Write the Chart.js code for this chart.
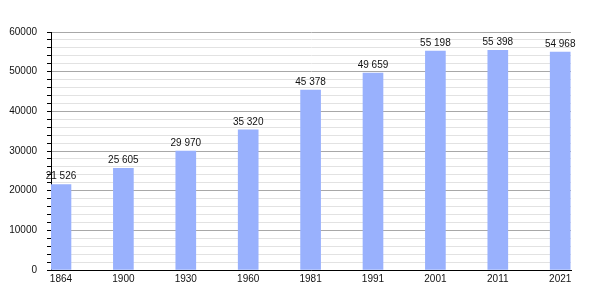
<!DOCTYPE html>
<html>
<head>
<meta charset="utf-8">
<script src="https://cdn.jsdelivr.net/npm/chart.js@4/dist/chart.umd.min.js"></script>
<style>
  html, body { margin: 0; padding: 0; background: #fff; }
  #wrap { width: 600px; height: 300px; position: relative; }
</style>
</head>
<body>
<div id="wrap"><canvas id="popChart"></canvas></div>
<script>
// census years and population
const years = ['1864', '1900', '1930', '1960', '1981', '1991', '2001', '2011', '2021'];
const population = [21526, 25605, 29970, 35320, 45378, 49659, 55198, 55398, 54968];
const yMajorTicks = [0, 10000, 20000, 30000, 40000, 50000, 60000];

const fmt = v => String(v).replace(/\B(?=(\d{3})+(?!\d))/g, ' ');

// draws the value above each bar
const valueLabels = {
    id: 'valueLabels',
    afterDatasetsDraw(chart) {
        const ctx = chart.ctx;
        const meta = chart.getDatasetMeta(0);
        ctx.save();
        ctx.font = '10px "Liberation Sans", Arial, sans-serif';
        ctx.fillStyle = '#111';
        ctx.textAlign = 'center';
        ctx.textBaseline = 'bottom';
        meta.data.forEach((bar, i) => {
            ctx.fillText(fmt(population[i]), bar.x, bar.y - 3);
        });
        ctx.restore();
    }
};

Chart.defaults.font.family = '"Liberation Sans", Arial, sans-serif';
Chart.defaults.font.size = 10;
Chart.defaults.color = '#111';

new Chart(document.getElementById('popChart').getContext('2d'), {
    type: 'bar',
    data: {
        datasets: [{
            data: population.map((v, i) => ({ x: i, y: v })),
            backgroundColor: '#99b1fd',
            barThickness: 20,
            borderWidth: 0
        }]
    },
    options: {
        responsive: true,
        maintainAspectRatio: false,
        animation: false,
        layout: { padding: { top: 32, right: 29, left: 0, bottom: 0 } },
        plugins: { legend: { display: false }, tooltip: { enabled: false } },
        scales: {
            x: {
                type: 'linear',
                offset: false,
                min: -0.16,
                max: 8.173,
                afterBuildTicks: axis => {
                    axis.ticks = years.map((y, i) => ({ value: i }));
                },
                ticks: {
                    autoSkip: false,
                    maxRotation: 0,
                    padding: 3,
                    callback: v => years[v]
                },
                grid: { display: false, drawTicks: false },
                border: { display: true, color: '#000', width: 1 },
                afterFit: axis => { axis.height = 30; }
            },
            y: {
                min: 0,
                max: 60000,
                ticks: {
                    stepSize: 2000,
                    autoSkip: false,
                    padding: 10,
                    callback: v => yMajorTicks.includes(v) ? String(v) : ''
                },
                grid: {
                    color: c => (c.tick && c.tick.value % 10000 === 0) ? '#a8a8a8' : '#e2e2e2',
                    tickColor: '#000',
                    tickLength: 4
                },
                border: { display: true, color: '#000', width: 1 },
                afterFit: axis => { axis.width = 51; }
            }
        }
    },
    plugins: [valueLabels]
});
</script>
</body>
</html>
